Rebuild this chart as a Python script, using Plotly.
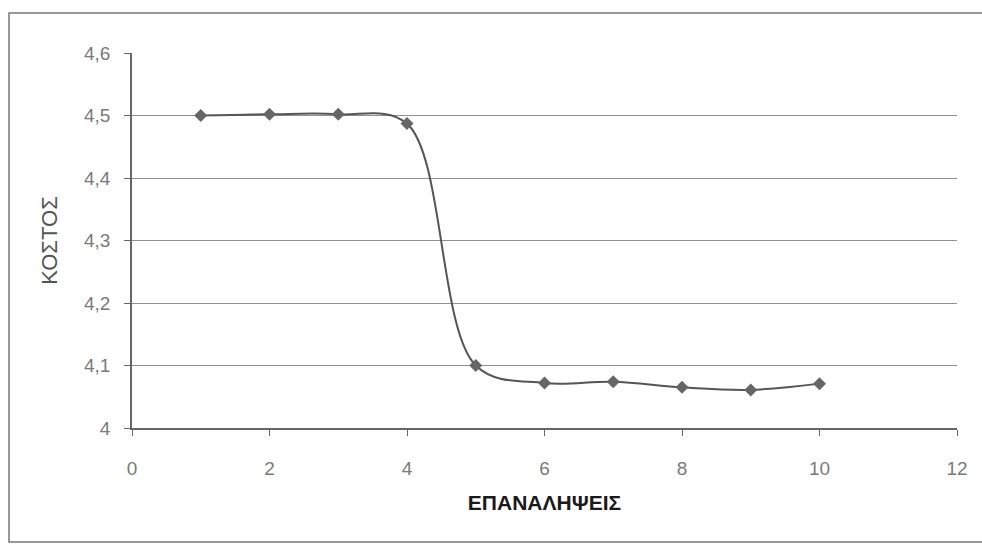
import plotly.graph_objects as go

# Data
iterations = [1, 2, 3, 4, 5, 6, 7, 8, 9, 10]
cost = [4.500, 4.502, 4.502, 4.487, 4.100, 4.072, 4.074, 4.065, 4.061, 4.071]

x_title = "ΕΠΑΝΑΛΗΨΕΙΣ"
y_title = "ΚΟΣΤΟΣ"

W, H = 982, 546
L, R, T, B = 132, 25, 53, 118
pw, ph = W - L - R, H - T - B

fig = go.Figure()
fig.add_trace(go.Scatter(
    x=iterations, y=cost, mode="lines+markers",
    line=dict(shape="spline", smoothing=1.0, color="#555555", width=2),
    marker=dict(symbol="diamond", size=10, color="#666666"),
    showlegend=False, hoverinfo="skip",
))

def px_x(p):
    return (p - L) / pw

def px_y(p):
    return (H - B - p) / ph

# Outer chart frame
fig.add_shape(type="rect", xref="paper", yref="paper",
              x0=px_x(9), x1=px_x(990), y0=px_y(542), y1=px_y(13),
              line=dict(color="#777777", width=1.5), layer="below")

fig.update_layout(
    width=W, height=H,
    margin=dict(l=L, r=R, t=T, b=B),
    paper_bgcolor="white", plot_bgcolor="white",
    separators=",.",
    font=dict(family="Liberation Sans, Arial, sans-serif", color="#777777", size=14),
    xaxis=dict(
        range=[0, 12], tickmode="array", tickvals=[0, 2, 4, 6, 8, 10, 12],
        showgrid=False, zeroline=False,
        showline=True, linecolor="#666666", linewidth=1.5,
        ticks="outside", ticklen=6, tickcolor="#666666",
        ticklabelstandoff=16,
        tickfont=dict(size=19, color="#7a7a7a"),
        title=dict(text="<b>" + x_title + "</b>", standoff=18,
                   font=dict(family="Liberation Sans, Arial",
                             size=21, color="#1a1a1a")),
    ),
    yaxis=dict(
        range=[4.0, 4.6], tickmode="array",
        tickvals=[4.0, 4.1, 4.2, 4.3, 4.4, 4.5, 4.6],
        ticktext=["4", "4,1", "4,2", "4,3", "4,4", "4,5", "4,6"],
        showgrid=True, gridcolor="#8f8f8f", gridwidth=1,
        zeroline=False,
        showline=True, linecolor="#666666", linewidth=1.5,
        ticks="outside", ticklen=6, tickcolor="#666666",
        ticklabelstandoff=10,
        tickfont=dict(size=19, color="#7a7a7a"),
        title=dict(text=y_title, standoff=20,
                   font=dict(size=22, color="#555555")),
    ),
)

fig.write_html("out.html")
